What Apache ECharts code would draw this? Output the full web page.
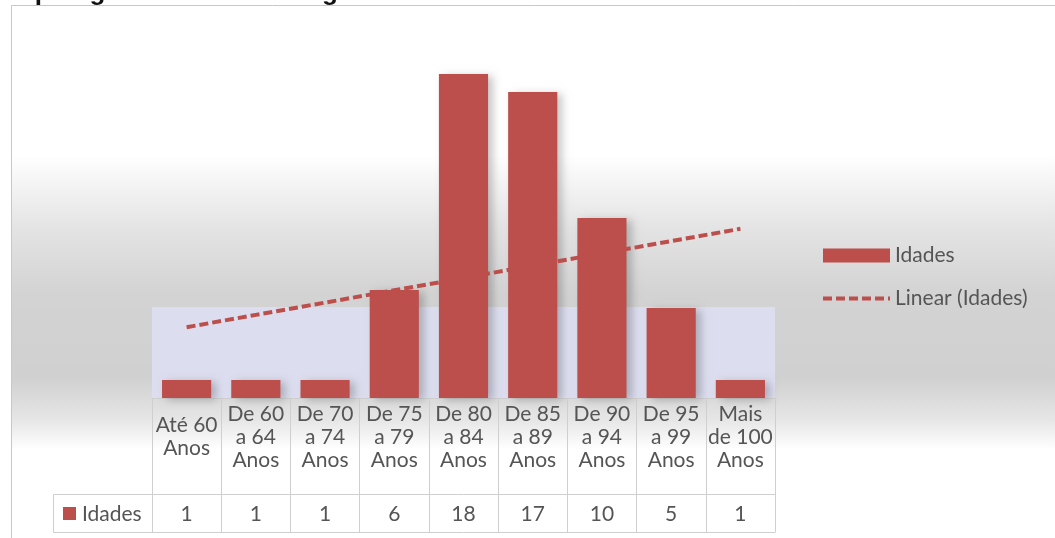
<!DOCTYPE html>
<html>
<head>
<meta charset="utf-8">
<script src="https://cdn.jsdelivr.net/npm/echarts@6/dist/echarts.min.js"></script>
<style>
  html, body { margin: 0; padding: 0; background: #ffffff; }
  #chart { width: 1055px; height: 538px; }
</style>
</head>
<body>
<div id="chart"></div>
<script>
// Age groups and the number of people in each
const categories = [
  'Até 60\nAnos', 'De 60\na 64\nAnos', 'De 70\na 74\nAnos', 'De 75\na 79\nAnos',
  'De 80\na 84\nAnos', 'De 85\na 89\nAnos', 'De 90\na 94\nAnos', 'De 95\na 99\nAnos',
  'Mais\nde 100\nAnos'
];
const values = [1, 1, 1, 6, 18, 17, 10, 5, 1];
const seriesName = 'Idades';
const trendName = 'Linear (Idades)';
const titleText = 'Tipologia dos Utentes Segundo as Idades';

// Least-squares linear trend over the category positions
function linearTrend(ys) {
  const n = ys.length;
  const xs = ys.map((_, i) => i + 1);
  const mx = xs.reduce((a, b) => a + b, 0) / n;
  const my = ys.reduce((a, b) => a + b, 0) / n;
  let sxy = 0, sxx = 0;
  for (let i = 0; i < n; i++) {
    sxy += (xs[i] - mx) * (ys[i] - my);
    sxx += (xs[i] - mx) * (xs[i] - mx);
  }
  const slope = sxy / sxx;
  return xs.map(x => +(my + slope * (x - mx)).toFixed(3));
}
const trend = linearTrend(values);

const barColor = '#bc4e4b';
const textColor = '#555555';
const gridColor = '#cfcfcf';
const font = 'Lato, "Open Sans", sans-serif';
const trendDash = [9, 4];

const chart = echarts.init(document.getElementById('chart'), null, { renderer: 'canvas' });

chart.setOption({
  animation: false,
  textStyle: { fontFamily: font },
  grid: { left: 152, right: 280, top: 38, bottom: 140 },
  legend: {
    orient: 'vertical',
    left: 821,
    top: 245,
    padding: 0,
    itemWidth: 67,
    itemHeight: 14,
    itemGap: 22,
    textStyle: { fontSize: 21, color: textColor, fontFamily: font },
    data: [
      { name: seriesName, icon: 'rect' },
      {
        name: trendName,
        itemStyle: { color: 'transparent', borderColor: 'transparent', borderWidth: 0 },
        lineStyle: { color: barColor, width: 4, type: trendDash }
      }
    ]
  },
  xAxis: [
    {
      type: 'category',
      data: categories,
      position: 'bottom',
      axisLine: { show: true, lineStyle: { color: gridColor, width: 1 } },
      axisTick: { show: true, length: 96, interval: 0, lineStyle: { color: gridColor } },
      axisLabel: {
        interval: 0, margin: 39, verticalAlign: 'middle',
        fontSize: 21, lineHeight: 23, color: textColor, fontFamily: font
      }
    },
    {
      // values row of the data table
      type: 'category',
      data: categories,
      position: 'bottom',
      offset: 96,
      axisLine: { show: true, lineStyle: { color: gridColor, width: 1 } },
      axisTick: { show: true, length: 38, interval: 0, lineStyle: { color: gridColor } },
      axisLabel: {
        interval: 0, margin: 20, verticalAlign: 'middle',
        fontSize: 21, color: textColor, fontFamily: font,
        formatter: (v, i) => String(values[i])
      }
    },
    {
      // bottom border of the data table
      type: 'category',
      data: categories,
      position: 'bottom',
      offset: 134,
      axisLine: { show: true, lineStyle: { color: gridColor, width: 1 } },
      axisTick: { show: false },
      axisLabel: { show: false }
    }
  ],
  yAxis: { type: 'value', min: 0, max: 20, show: false, splitLine: { show: false } },
  graphic: {
    elements: [
      {
        // chart area with the soft grey band across the middle
        type: 'rect', z: -20, silent: true,
        shape: { x: 11.5, y: 5.5, width: 1100, height: 600 },
        style: {
          stroke: '#c8c8c8', lineWidth: 1,
          fill: {
            type: 'linear', x: 0, y: 0, x2: 0, y2: 1,
            colorStops: [
              { offset: 0.0, color: '#ffffff' },
              { offset: 0.25, color: '#ffffff' },
              { offset: 0.37, color: '#e4e4e4' },
              { offset: 0.48, color: '#d3d3d3' },
              { offset: 0.62, color: '#d0d0d0' },
              { offset: 0.69, color: '#e6e6e6' },
              { offset: 0.74, color: '#ffffff' },
              { offset: 1.0, color: '#ffffff' }
            ]
          }
        }
      },
      {
        type: 'text', z: 10, silent: true,
        style: {
          x: 12, y: 6, text: titleText,
          font: 'bold 26px "Liberation Sans", Arial, sans-serif',
          fill: '#111111', verticalAlign: 'bottom'
        }
      },
      // series key cell of the data table
      {
        type: 'polyline', z: 5, silent: true,
        shape: { points: [[152, 494.5], [53.5, 494.5], [53.5, 532.5], [152, 532.5]] },
        style: { stroke: gridColor, lineWidth: 1, fill: null }
      },
      {
        type: 'rect', z: 5, silent: true,
        shape: { x: 63, y: 507, width: 13, height: 13 },
        style: { fill: barColor }
      },
      {
        type: 'text', z: 5, silent: true,
        style: {
          x: 82, y: 514, text: seriesName,
          font: '21px ' + font, fill: textColor, verticalAlign: 'middle'
        }
      }
    ]
  },
  series: [
    {
      name: seriesName,
      type: 'bar',
      data: values,
      barWidth: '71%',
      itemStyle: {
        color: barColor,
        shadowColor: 'rgba(0,0,0,0.22)',
        shadowBlur: 8,
        shadowOffsetX: 5,
        shadowOffsetY: 2
      },
      markArea: {
        silent: true,
        itemStyle: { color: '#dcddee', opacity: 1 },
        data: [[{ yAxis: 0 }, { yAxis: 5.05 }]]
      },
      z: 3
    },
    {
      name: trendName,
      type: 'line',
      data: trend,
      symbol: 'none',
      smooth: false,
      lineStyle: { color: barColor, width: 4, type: trendDash },
      itemStyle: { color: barColor },
      z: 4
    }
  ]
});
</script>
</body>
</html>
